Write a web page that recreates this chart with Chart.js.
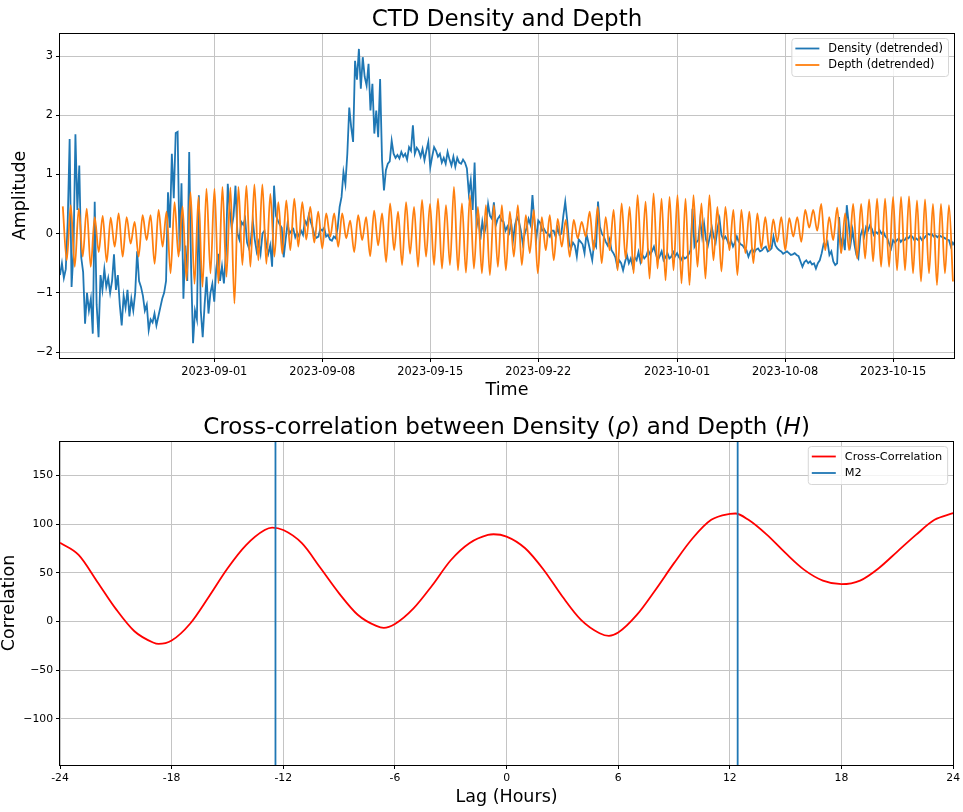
<!DOCTYPE html>
<html>
<head>
<meta charset="utf-8">
<title>CTD Density and Depth</title>
<script src="https://cdn.jsdelivr.net/npm/chart.js@4.4.1/dist/chart.umd.min.js"></script>
<style>
  html, body { margin: 0; padding: 0; background: #fff; }
  .box { position: absolute; left: 0; width: 963px; height: 406px; }
  #topBox { top: 0; }
  #bottomBox { top: 406px; }
</style>
</head>
<body>
<div class="box" id="topBox"><canvas id="ctdChart" width="963" height="406"></canvas></div>
<div class="box" id="bottomBox"><canvas id="xcorrChart" width="963" height="406"></canvas></div>
<script>
// ---- top panel data (days counted from 2023-09-01 00:00) ----
// density sampled every 3 hours, one row = 2 days
const densityStartDay = -10
const densityStepDay = 0.125
const densityValues = [
  -0.70, -0.50, -0.75, -0.60, 0.20, 1.60, -0.90, -0.30, 1.68, 0.40, 1.15, -0.40, -0.65, -1.52, -1.00, -1.30,
  -1.10, -1.69, 0.54, -1.20, -1.75, -0.70, -0.95, -0.60, -0.90, -0.75, -1.00, -0.80, -0.35, -0.95, -0.70, -1.20,
  -1.55, -1.05, -1.25, -0.95, -1.40, -1.10, -1.30, -1.00, -0.30, -0.80, -0.90, -1.05, -1.30, -1.20, -1.63, -1.45,
  -1.50, -1.35, -1.55, -1.40, -1.25, -1.10, -1.00, -0.80, 0.70, 0.10, 1.35, 0.60, 1.70, 1.72, -0.30, 0.85,
  -1.10, -0.20, -0.80, 1.38, -0.60, -1.85, -1.30, -1.45, 0.65, -1.30, -1.75, -1.20, -0.73, -1.35, -1.00, -0.85,
  -1.15, -0.60, -0.34, -0.80, -0.55, -0.84, -0.35, 0.84, 0.40, 0.10, 0.30, 0.81, 0.00, -0.10, 0.20, 0.15,
  0.25, -0.15, -0.25, -0.10, 0.22, -0.10, -0.30, -0.15, -0.34, 0.00, 0.05, -0.20, -0.34, -0.20, -0.56, 0.81,
  0.30, 0.22, 0.15, 0.10, -0.40, -0.10, 0.17, 0.00, 0.05, 0.08, -0.06, 0.02, -0.05, 0.05, -0.02, 0.22,
  0.15, 0.31, 0.20, 0.10, -0.03, -0.07, -0.05, 0.08, 0.05, 0.10, -0.05, -0.02, -0.10, -0.12, -0.05, -0.08,
  0.10, 0.45, 0.62, 1.04, 0.84, 1.35, 2.13, 1.80, 1.55, 2.92, 2.60, 3.12, 2.45, 2.98, 2.65, 2.50,
  2.87, 2.08, 2.53, 1.69, 2.08, 1.63, 2.61, 1.24, 0.73, 1.07, 1.18, 1.22, 1.57, 1.35, 1.28, 1.33,
  1.27, 1.38, 1.30, 1.35, 1.25, 1.46, 1.40, 1.83, 1.35, 1.45, 1.40, 1.30, 1.43, 1.24, 1.40, 1.55,
  1.12, 1.30, 1.46, 1.40, 1.30, 1.35, 1.20, 1.28, 1.18, 1.38, 1.25, 1.15, 1.30, 1.13, 1.28, 1.20,
  1.18, 1.25, 1.20, 1.10, 0.68, 0.90, 0.40, 1.20, 0.11, 0.28, -0.10, 0.20, 0.00, 0.15, 0.50, 0.30,
  0.25, 0.53, 0.14, 0.25, 0.30, 0.22, 0.20, 0.05, 0.12, 0.02, 0.17, -0.10, 0.15, 0.28, 0.20, 0.05,
  -0.17, 0.00, 0.10, 0.25, 0.15, 0.65, 0.20, -0.08, 0.22, 0.18, 0.05, 0.08, 0.02, 0.00, -0.05, 0.05,
  0.05, -0.05, 0.10, -0.02, 0.00, 0.30, 0.54, 0.23, -0.17, -0.25, -0.15, -0.20, -0.39, -0.10, -0.14, -0.18,
  -0.33, 0.00, -0.15, -0.30, -0.45, -0.15, -0.22, 0.54, 0.11, 0.00, -0.05, -0.14, -0.20, -0.10, -0.28, -0.33,
  -0.40, -0.56, -0.45, -0.50, -0.62, -0.48, -0.36, -0.50, -0.42, -0.55, -0.40, -0.45, -0.31, -0.48, -0.36, -0.42,
  -0.38, -0.28, -0.35, -0.30, -0.22, -0.35, -0.45, -0.38, -0.30, -0.45, -0.40, -0.33, -0.42, -0.39, -0.31, -0.38,
  -0.33, -0.40, -0.45, -0.38, -0.42, -0.40, -0.35, -0.28, 0.42, -0.22, -0.15, -0.11, 0.23, -0.05, 0.17, -0.10,
  -0.20, -0.05, 0.11, -0.05, -0.15, 0.10, 0.25, -0.02, -0.10, -0.05, -0.11, -0.20, -0.12, -0.22, -0.15, -0.05,
  -0.14, -0.18, -0.20, -0.25, -0.28, -0.39, -0.30, -0.26, -0.32, -0.27, -0.25, -0.30, -0.28, -0.24, -0.22, -0.30,
  -0.28, -0.25, -0.05, -0.20, -0.25, -0.28, -0.30, -0.34, -0.32, -0.30, -0.33, -0.36, -0.35, -0.33, -0.36, -0.38,
  -0.47, -0.56, -0.48, -0.45, -0.50, -0.47, -0.52, -0.50, -0.59, -0.50, -0.45, -0.33, -0.17, -0.20, -0.14, -0.36,
  -0.30, -0.47, -0.53, -0.50, 0.28, -0.22, -0.05, -0.28, 0.48, 0.17, -0.17, 0.06, -0.19, -0.36, -0.42, -0.05,
  0.06, -0.05, 0.11, 0.05, 0.14, 0.08, -0.02, 0.03, 0.00, 0.06, 0.00, 0.03, -0.05, -0.08, -0.17, -0.25,
  -0.11, -0.15, -0.11, -0.08, -0.14, -0.10, -0.11, -0.06, -0.08, -0.03, -0.05, -0.11, -0.08, -0.11, -0.06, -0.11,
  -0.08, -0.04, 0.00, -0.02, 0.00, -0.05, -0.03, -0.06, -0.03, -0.05, -0.06, -0.08, -0.10, -0.11, -0.22, -0.15,
  -0.20
]

// depth: one high and one low per tidal cycle (M2 half-cycle spacing)
const depthFirstPeakDay = -9.82
const depthHalfCycleDay = 0.25875
const depthHighs = [
  0.46, 0.48, 0.42, 0.42, 0.28, 0.30, 0.27, 0.34, 0.28, 0.20, 0.31, 0.31, 0.40, 0.37, 0.53, 0.46,
  0.70, 0.62, 0.76, 0.76, 0.79, 0.78, 0.79, 0.81, 0.83, 0.83, 0.67, 0.53, 0.56, 0.59, 0.53, 0.45,
  0.37, 0.34, 0.34, 0.34, 0.22, 0.31, 0.28, 0.39, 0.34, 0.51, 0.37, 0.53, 0.45, 0.57, 0.50,
  0.59, 0.48, 0.79, 0.51, 0.65, 0.45, 0.48, 0.48, 0.48, 0.37, 0.48, 0.31, 0.40, 0.28, 0.31, 0.25,
  0.23, 0.23, 0.20, 0.37, 0.45, 0.28, 0.40, 0.51, 0.45, 0.65, 0.54, 0.68, 0.59, 0.62, 0.65,
  0.59, 0.65, 0.51, 0.65, 0.45, 0.45, 0.40, 0.40, 0.37, 0.34, 0.28, 0.24, 0.28, 0.26, 0.28, 0.40,
  0.40, 0.50, 0.28, 0.44, 0.34, 0.50, 0.50, 0.58, 0.59, 0.59, 0.62, 0.62, 0.63, 0.56, 0.58, 0.50, 0.50, 0.48
]
const depthLows = [
  -0.45, -0.56, -0.39, -0.56, -0.31, -0.48, -0.22, -0.39, -0.17, -0.39, -0.11, -0.51, -0.22, -0.67, -0.39, -0.79,
  -0.85, -0.90, -0.67, -0.84, -0.73, -1.18, -0.53, -0.56, -0.45, -0.51, -0.39, -0.34, -0.28, -0.22, -0.10, -0.15,
  -0.25, -0.05, -0.22, -0.08, -0.31, -0.11, -0.38, -0.20, -0.48, -0.28, -0.53, -0.34, -0.56, -0.39, -0.53,
  -0.59, -0.53, -0.62, -0.66, -0.59, -0.67, -0.70, -0.56, -0.62, -0.39, -0.53, -0.33, -0.67, -0.28, -0.45, -0.22,
  -0.39, -0.08, -0.05, -0.28, -0.50, -0.28, -0.62, -0.42, -0.67, -0.50, -0.76, -0.59, -0.79, -0.62, -0.84,
  -0.87, -0.56, -0.76, -0.45, -0.64, -0.28, -0.70, -0.33, -0.50, -0.25, -0.28, -0.14, -0.28, -0.05, -0.14, 0.10,
  0.05, -0.28, -0.11, -0.33, -0.28, -0.42, -0.42, -0.47, -0.56, -0.56, -0.62, -0.62, -0.67, -0.81, -0.67, -0.87, -0.67, -0.81
]
const dateTickDays = [0, 7, 14, 21, 30, 37, 44]
const amplitudeTicks = [-2, -1, 0, 1, 2, 3]

// ---- bottom panel data ----
const lagHours = [-24, -23, -22, -21, -20, -19, -18.7, -18, -17, -16, -15, -14, -13, -12.6, -12, -11, -10, -9, -8, -7, -6.6, -6,
  -5, -4, -3, -2, -1, -0.7, 0, 1, 2, 3, 4, 5, 5.5, 6, 7, 8, 9, 10, 11, 12, 12.3, 13, 14, 15, 16, 17, 18, 19, 20, 21, 22, 23, 24]
const crossCorrValues = [81, 68.5, 41, 13, -10, -21.5, -23, -19.5, -2, 25.5, 54.5, 78.5, 94, 96.5, 94, 80.5, 55, 29, 7, -4.5, -6.5, -2.5,
  13.5, 37, 63, 80.5, 89, 89.7, 87.3, 75.3, 53, 25.7, 1.7, -12, -14.7, -11.3, 6.8, 32.5, 60, 85.6, 104.5, 110.6, 111, 104.5, 89, 70.2,
  53.1, 42.1, 38.4, 42.1, 54.8, 71.9, 89, 104.5, 111.3]
const m2LagHours = [-12.42, 12.42]
const lagTicks = [-24, -18, -12, -6, 0, 6, 12, 18, 24]
const corrTicks = [-100, -50, 0, 50, 100, 150]

const FONT = "'DejaVu Sans', 'Liberation Sans', sans-serif"
const BLUE = '#1f77b4'
const ORANGE = '#ff7f0e'
const GRID = '#c4c4c4'

Chart.defaults.font.family = FONT
Chart.defaults.color = '#000'

function dayLabel(d) {
  const dt = new Date(Date.UTC(2023, 8, 1) + d * 86400000)
  return dt.toISOString().slice(0, 10)
}
function minusLabel(v) {
  return v < 0 ? '\u2212' + Math.abs(v) : String(v)
}

function drawLegend(ctx, area, items, fontSize) {
  ctx.font = fontSize + 'px ' + FONT
  let textW = 0
  items.forEach((it) => { textW = Math.max(textW, ctx.measureText(it.label).width) })
  const w = 4 + 24 + 9 + textW + 5
  const h = 38
  const x = area.right - 6 - w
  const y = area.top + 5
  ctx.beginPath()
  ctx.roundRect(x + 0.5, y + 0.5, w, h, 3)
  ctx.fillStyle = 'rgba(255,255,255,0.8)'
  ctx.fill()
  ctx.strokeStyle = '#d6d6d6'
  ctx.lineWidth = 1
  ctx.stroke()
  items.forEach((it, i) => {
    const cy = y + 10.5 + i * 16.5
    ctx.beginPath()
    ctx.moveTo(x + 4, cy)
    ctx.lineTo(x + 28, cy)
    ctx.strokeStyle = it.color
    ctx.lineWidth = 1.8
    ctx.stroke()
    ctx.fillStyle = '#000'
    ctx.textAlign = 'left'
    ctx.textBaseline = 'middle'
    ctx.fillText(it.label, x + 37, cy + 0.5)
  })
}

function drawTitleParts(ctx, parts, cx, baseline, size) {
  let total = 0
  parts.forEach((p) => {
    ctx.font = (p.italic ? 'italic ' : '') + size + 'px ' + FONT
    p.w = ctx.measureText(p.text).width
    total += p.w
  })
  let x = cx - total / 2
  ctx.textAlign = 'left'
  ctx.textBaseline = 'alphabetic'
  ctx.fillStyle = '#000'
  parts.forEach((p) => {
    ctx.font = (p.italic ? 'italic ' : '') + size + 'px ' + FONT
    ctx.fillText(p.text, x, baseline)
    x += p.w
  })
}

const decorations = {
  id: 'decorations',
  afterDraw(chart, args, opts) {
    const ctx = chart.ctx
    const a = chart.chartArea
    ctx.save()
    ctx.strokeStyle = '#000'
    ctx.lineWidth = 1
    ctx.strokeRect(Math.round(a.left) - 0.5, Math.round(a.top) + 0.5, Math.round(a.right - a.left) + 1, Math.round(a.bottom - a.top))
    const cx = (a.left + a.right) / 2
    drawTitleParts(ctx, opts.title, cx, opts.titleBaseline, 23)
    ctx.font = '17.5px ' + FONT
    ctx.fillStyle = '#000'
    ctx.textAlign = 'center'
    ctx.textBaseline = 'alphabetic'
    ctx.fillText(opts.xLabel, cx, opts.xLabelBaseline)
    ctx.save()
    ctx.translate(opts.yLabelBaseline, (a.top + a.bottom) / 2)
    ctx.rotate(-Math.PI / 2)
    ctx.fillText(opts.yLabel, 0, 0)
    ctx.restore()
    drawLegend(ctx, a, opts.legend, opts.legendSize)
    ctx.restore()
  }
}

function fixedTicks(list) {
  return (scale) => { scale.ticks = list.map((v) => ({ value: v })) }
}

function makeTopChart() {
  const densityPoints = densityValues.map((v, i) => ({ x: densityStartDay + i * densityStepDay, y: v }))
  const depthPoints = []
  depthHighs.forEach((hi, k) => {
    depthPoints.push({ x: depthFirstPeakDay + 2 * k * depthHalfCycleDay, y: hi })
    depthPoints.push({ x: depthFirstPeakDay + (2 * k + 1) * depthHalfCycleDay, y: depthLows[k] })
  })
  return new Chart(document.getElementById('ctdChart'), {
    type: 'line',
    data: {
      datasets: [
        { label: 'Density (detrended)', data: densityPoints, borderColor: BLUE, borderWidth: 1.8, pointRadius: 0, tension: 0, order: 2 },
        { label: 'Depth (detrended)', data: depthPoints, borderColor: ORANGE, borderWidth: 1.8, pointRadius: 0, cubicInterpolationMode: 'monotone', order: 1 }
      ]
    },
    options: {
      responsive: false,
      animation: false,
      events: [],
      layout: { padding: { top: 33, right: 9, left: 0, bottom: 0 } },
      scales: {
        x: {
          type: 'linear', min: -10, max: 47.95,
          afterBuildTicks: fixedTicks(dateTickDays),
          afterFit: (s) => { s.height = 48 },
          ticks: { callback: (v) => dayLabel(v), font: { size: 11.4 }, color: '#000', maxRotation: 0, autoSkip: false, padding: 3 },
          grid: { color: GRID, lineWidth: 1, tickLength: 4, tickColor: '#000' },
          border: { display: false }
        },
        y: {
          type: 'linear', min: -2.101, max: 3.389,
          afterBuildTicks: fixedTicks(amplitudeTicks),
          afterFit: (s) => { s.width = 60 },
          ticks: { callback: (v) => minusLabel(v), font: { size: 11.4 }, color: '#000', padding: 3 },
          grid: { color: GRID, lineWidth: 1, tickLength: 4, tickColor: '#000' },
          border: { display: false }
        }
      },
      plugins: {
        legend: { display: false },
        tooltip: { enabled: false },
        decorations: {
          title: [{ text: 'CTD Density and Depth' }],
          titleBaseline: 26,
          xLabel: 'Time', xLabelBaseline: 395,
          yLabel: 'Amplitude', yLabelBaseline: 25,
          legendSize: 11.4,
          legend: [{ label: 'Density (detrended)', color: BLUE }, { label: 'Depth (detrended)', color: ORANGE }]
        }
      }
    },
    plugins: [decorations]
  })
}

function makeBottomChart() {
  const corrMin = -147.4
  const corrMax = 185.5
  const corrPoints = lagHours.map((h, i) => ({ x: h, y: crossCorrValues[i] }))
  const m2Points = []
  m2LagHours.forEach((h) => {
    m2Points.push({ x: h, y: corrMin }, { x: h, y: corrMax }, { x: h, y: null })
  })
  return new Chart(document.getElementById('xcorrChart'), {
    type: 'line',
    data: {
      datasets: [
        { label: 'Cross-Correlation', data: corrPoints, borderColor: 'red', borderWidth: 1.8, pointRadius: 0, cubicInterpolationMode: 'monotone', order: 2 },
        { label: 'M2', data: m2Points, borderColor: BLUE, borderWidth: 1.8, pointRadius: 0, spanGaps: false, order: 1 }
      ]
    },
    options: {
      responsive: false,
      animation: false,
      events: [],
      layout: { padding: { top: 35, right: 9, left: 0, bottom: 0 } },
      scales: {
        x: {
          type: 'linear', min: -24, max: 24,
          afterBuildTicks: fixedTicks(lagTicks),
          afterFit: (s) => { s.height = 47 },
          ticks: { callback: (v) => String(v), font: { size: 10.8 }, color: '#000', maxRotation: 0, autoSkip: false, padding: 3 },
          grid: { color: GRID, lineWidth: 1, tickLength: 4, tickColor: '#000' },
          border: { display: false }
        },
        y: {
          type: 'linear', min: corrMin, max: corrMax,
          afterBuildTicks: fixedTicks(corrTicks),
          afterFit: (s) => { s.width = 60 },
          ticks: { callback: (v) => minusLabel(v), font: { size: 10.8 }, color: '#000', padding: 3 },
          grid: { color: GRID, lineWidth: 1, tickLength: 4, tickColor: '#000' },
          border: { display: false }
        }
      },
      plugins: {
        legend: { display: false },
        tooltip: { enabled: false },
        decorations: {
          title: [
            { text: 'Cross-correlation between Density (' },
            { text: '\u03c1', italic: true },
            { text: ') and Depth (' },
            { text: 'H', italic: true },
            { text: ')' }
          ],
          titleBaseline: 28,
          xLabel: 'Lag (Hours)', xLabelBaseline: 396,
          yLabel: 'Correlation', yLabelBaseline: 14,
          legendSize: 11.3,
          legend: [{ label: 'Cross-Correlation', color: 'red' }, { label: 'M2', color: BLUE }]
        }
      }
    },
    plugins: [decorations]
  })
}

document.addEventListener('DOMContentLoaded', () => {
  makeTopChart()
  makeBottomChart()
})
</script>
</body>
</html>
